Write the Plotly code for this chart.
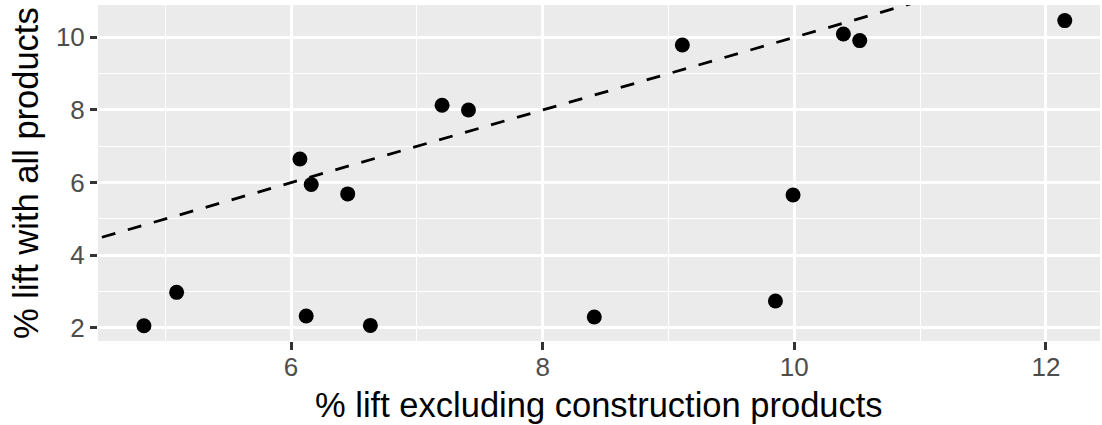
import plotly.graph_objects as go
import numpy as np

x_lift_excl = [4.83, 5.09, 6.07, 6.16, 6.12, 6.45, 6.63, 7.20, 7.41, 8.41, 9.11, 9.85, 9.99, 10.39, 10.52, 12.15]
y_lift_all = [2.06, 2.98, 6.65, 5.95, 2.33, 5.69, 2.07, 8.13, 8.00, 2.30, 9.79, 2.74, 5.66, 10.09, 9.91, 10.46]

ref_slope = 1.0
ref_intercept = 0.0
x_range = [4.465, 12.43]
y_range = [1.64, 10.89]

line_x = np.array([x_range[0] - 1, x_range[1] + 1])
line_y = ref_slope * line_x + ref_intercept

fig = go.Figure()
fig.add_trace(go.Scatter(x=line_x, y=line_y, mode="lines",
                         line=dict(color="black", width=2.8, dash="14px,13px"),
                         hoverinfo="skip", showlegend=False))
fig.add_trace(go.Scatter(x=x_lift_excl, y=y_lift_all, mode="markers",
                         marker=dict(color="black", size=15, line=dict(width=0)),
                         showlegend=False))

font = "Liberation Sans, Arial, sans-serif"
fig.update_layout(
    width=1102, height=425,
    margin=dict(l=98, r=2, t=5, b=84),
    paper_bgcolor="white", plot_bgcolor="#EBEBEB",
    font=dict(family=font),
    xaxis=dict(range=x_range, tickvals=[6, 8, 10, 12], showgrid=True, gridcolor="white", gridwidth=2.5,
               minor=dict(tickvals=[5, 7, 9, 11], showgrid=True, gridcolor="white", gridwidth=1.2),
               zeroline=False, ticks="outside", ticklen=8, tickwidth=2.5, tickcolor="#333333",
               ticklabelstandoff=-5,
               tickfont=dict(size=26, color="#4D4D4D"), automargin=False),
    yaxis=dict(range=y_range, tickvals=[2, 4, 6, 8, 10], showgrid=True, gridcolor="white", gridwidth=2.5,
               minor=dict(tickvals=[3, 5, 7, 9], showgrid=True, gridcolor="white", gridwidth=1.2),
               zeroline=False, ticks="outside", ticklen=7, tickwidth=2.5, tickcolor="#333333",
               tickfont=dict(size=26, color="#4D4D4D"), automargin=False),
    annotations=[
        dict(text="% lift excluding construction products", xref="paper", yref="paper",
             x=0.5, y=0, yshift=-64, showarrow=False, xanchor="center", yanchor="middle",
             font=dict(size=34.5, color="black")),
        dict(text="% lift with all products", xref="paper", yref="paper",
             x=0, y=0.5, xshift=-72, showarrow=False, xanchor="center", yanchor="middle",
             textangle=-90, font=dict(size=34.5, color="black")),
    ],
)
fig.write_html("out.html", config={"displayModeBar": False},
               post_script="document.body.style.margin='0px';document.body.style.overflow='hidden';")
